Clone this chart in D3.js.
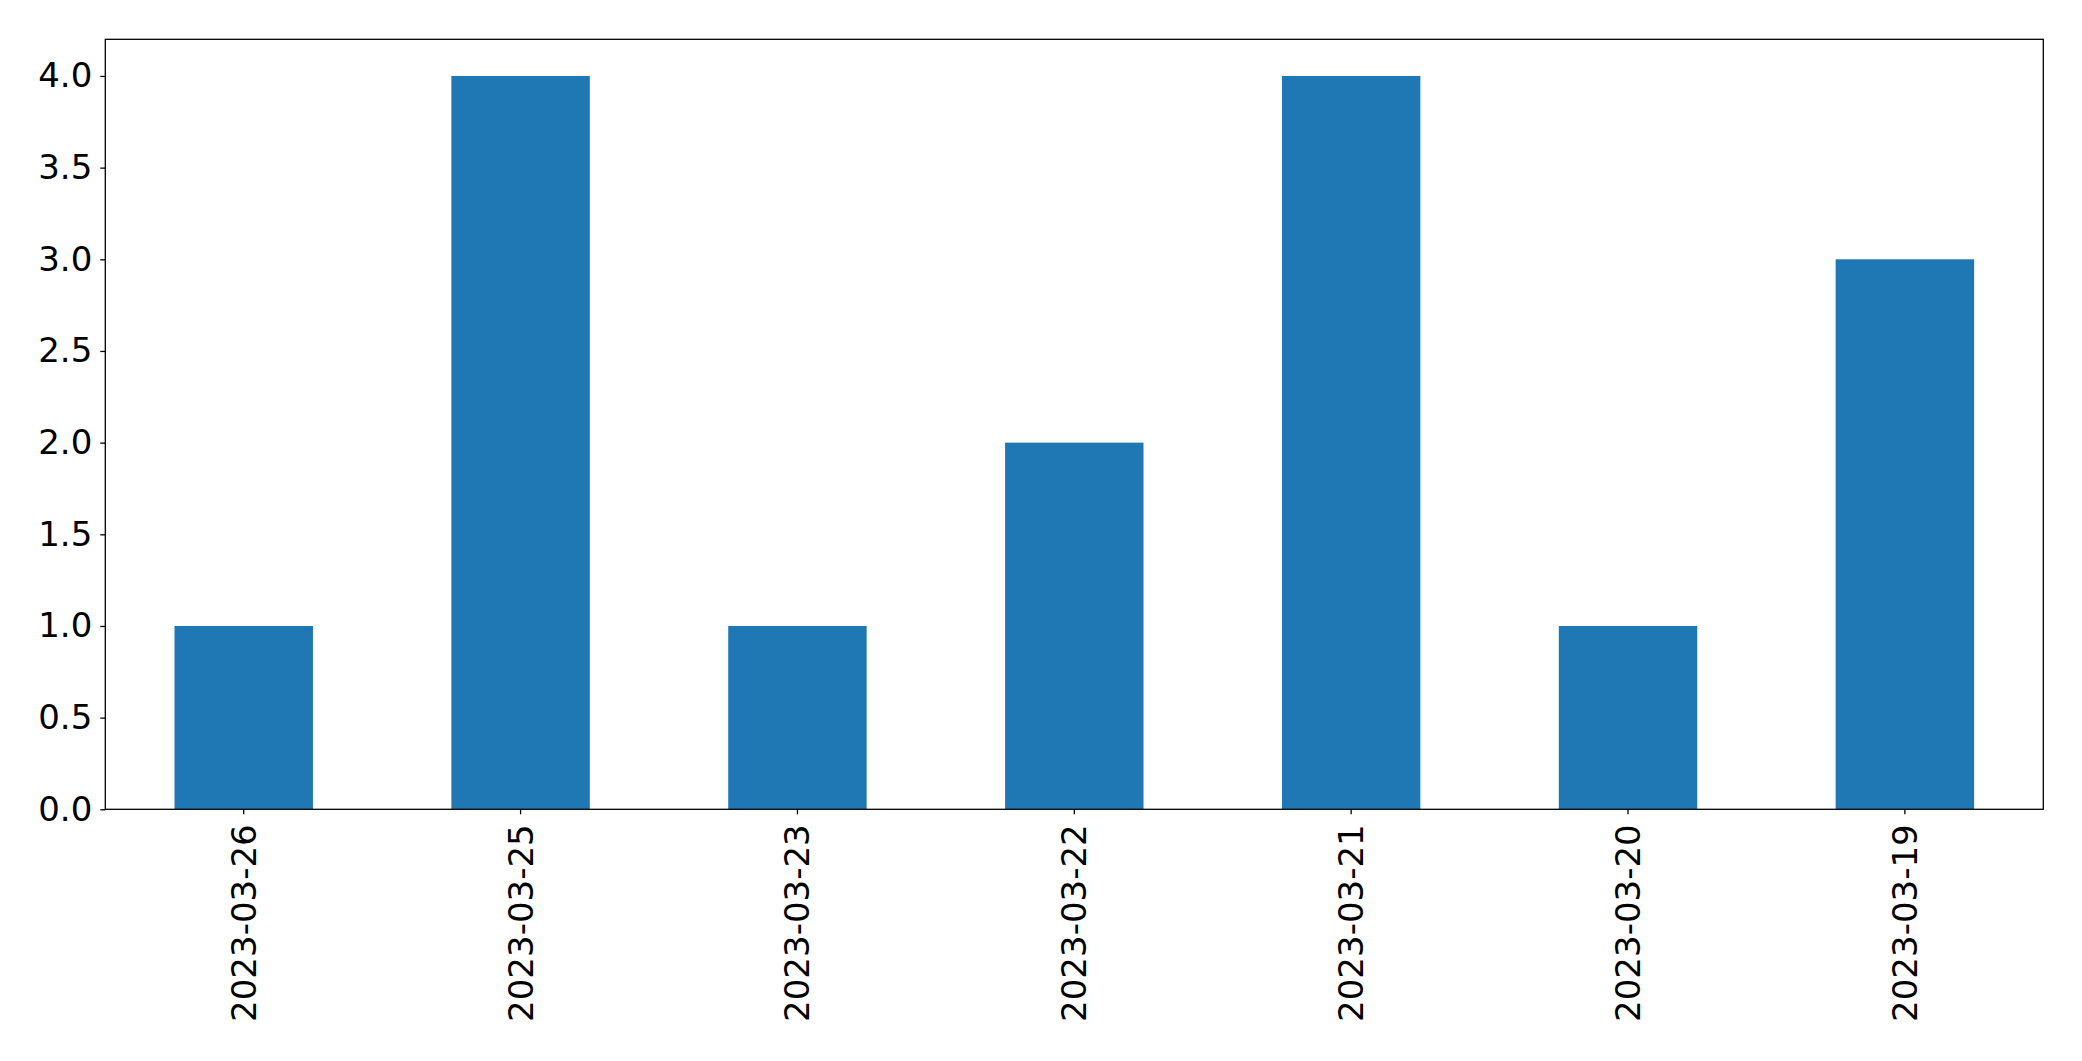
<!DOCTYPE html>
<html><head><meta charset="utf-8">
<script src="https://cdn.jsdelivr.net/npm/d3@7"></script>
<style>body{margin:0;background:#fff;} text{font-family:"DejaVu Sans",sans-serif;}</style>
</head><body>
<svg id="c" width="2082" height="1061"></svg>
<script>
const categories = ["2023-03-26","2023-03-25","2023-03-23","2023-03-22","2023-03-21","2023-03-20","2023-03-19"];
const values = [1,4,1,2,4,1,3];
const yTicks = [0,0.5,1,1.5,2,2.5,3,3.5,4];

const L=105.3, R=2043.3, T=39.3, B=809.3;
const svg=d3.select("#c");
const x=d3.scaleBand().domain(categories).range([L,R]).paddingInner(0.5).paddingOuter(0.25);
const y=d3.scaleLinear().domain([0,4.2]).range([B,T]);

svg.selectAll("rect.bar").data(values).enter().append("rect")
  .attr("x",(d,i)=>x(categories[i])).attr("width",x.bandwidth())
  .attr("y",d=>y(d)).attr("height",d=>B-y(d)).attr("fill","#1f77b4");

const fs=34;
const ya=svg.append("g").attr("transform",`translate(${L},0)`)
  .call(d3.axisLeft(y).tickValues(yTicks).tickFormat(d3.format(".1f")).tickSize(5).tickPadding(8));
ya.select(".domain").remove();
ya.selectAll("text").attr("font-size",fs).attr("fill","#000").style("font-family","DejaVu Sans");
ya.selectAll("line").attr("stroke","#000").attr("stroke-width",1.3);

const xa=svg.append("g").attr("transform",`translate(0,${B})`)
  .call(d3.axisBottom(x).tickSize(5).tickSizeOuter(0));
xa.select(".domain").remove();
xa.selectAll("line").attr("stroke","#000").attr("stroke-width",1.3);
xa.selectAll("text").attr("font-size",fs).attr("fill","#000").style("font-family","DejaVu Sans")
  .attr("text-anchor","end").attr("dy",null).attr("y",0)
  .attr("transform","translate(0,15) rotate(-90)").attr("dx",0).attr("x",0)
  .attr("dominant-baseline","central");

svg.append("rect").attr("x",L).attr("y",T).attr("width",R-L).attr("height",B-T)
  .attr("fill","none").attr("stroke","#000").attr("stroke-width",1.3);
</script>
</body></html>
